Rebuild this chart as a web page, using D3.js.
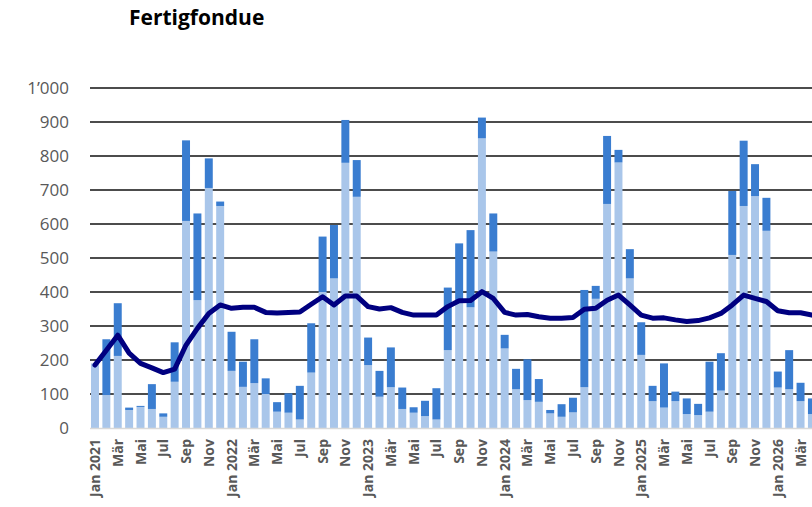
<!DOCTYPE html>
<html><head><meta charset="utf-8">
<script src="https://cdn.jsdelivr.net/npm/d3@7"></script>
<style>body{margin:0;background:#fff}svg{display:block}</style>
</head><body>
<div id="chart"></div>
<script>
const monthNames = ["Jan","Feb","Mär","Apr","Mai","Jun","Jul","Aug","Sep","Okt","Nov","Dez"];
const years = [2021,2022,2023,2024,2025,2026];
const lightValues = [
  190, 97,212, 53, 62, 56, 33,136,609,376,706,653,
  168,121,132,100, 48, 45, 25,163,400,440,780,680,
  185, 92,120, 56, 45, 35, 25,229,372,355,852,519,
  234,114, 82, 77, 43, 33, 46,120,380,659,781,440,
  215, 79, 60, 79, 41, 38, 48,110,509,653,682,580,
  119,114, 79, 41];
const darkValues = [
    0,164,155,  7,  3, 73, 10,116,237,255, 87, 13,
  115, 74,129, 46, 28, 57, 99,145,163,157,126,108,
   81, 76,117, 63, 16, 45, 92,184,171,227, 61,112,
   40, 60,120, 67, 10, 37, 43,286, 38,200, 37, 86,
   96, 45,130, 28, 46, 33,147,110,188,192, 94, 97,
   47,115, 54, 46];
const lineValues = [
  185,229,273,220,190,177,163,173,244,293,337,362,
  352,355,355,340,338,340,341,364,386,362,388,388,
  357,350,354,340,332,332,332,357,374,375,401,381,
  340,332,334,327,323,323,325,349,352,376,391,362,
  332,323,324,318,313,316,324,337,362,391,381,372,
  345,339,339,332];
const yTicks = [0,100,200,300,400,500,600,700,800,900,1000];

const months = lightValues.map((v,i)=>{
  const m = i%12, y = years[Math.floor(i/12)];
  return {key:i, label: m===0 ? "Jan " + y : monthNames[m], showLabel: m%2===0,
          light:v, dark:darkValues[i], avg:lineValues[i]};
});

const W=812,H=507;
const svg = d3.select("#chart").append("svg").attr("width",W).attr("height",H)
  .style("font-family","'Open Sans', sans-serif");

const step = 11.38, x0 = 89.3;
const x = d3.scaleBand().domain(months.map(d=>d.key))
  .range([x0, x0 + step*months.length]).paddingInner(0.3).paddingOuter(0.15);
const y = d3.scaleLinear().domain([0,1000]).range([428,88]);

// gridlines
svg.append("g").selectAll("line").data(yTicks.filter(t=>t>0)).join("line")
  .attr("x1",90).attr("x2",W).attr("y1",d=>y(d)).attr("y2",d=>y(d))
  .attr("stroke","#111").attr("stroke-width",1.4);

// y labels
const fmt = v => v>=1000 ? d3.format(",")(v).replace(",","\u2019") : String(v);
svg.append("g").selectAll("text").data(yTicks).join("text")
  .attr("x",69).attr("y",d=>y(d)).attr("dy","0.36em").attr("text-anchor","end")
  .attr("fill","#595959").style("font-size","17px").text(fmt);

// stacked bars
const stack = d3.stack().keys(["light","dark"])(months);
const colors = {light:"#A9C6EA", dark:"#3A7DD0"};
svg.append("g").selectAll("g").data(stack).join("g")
  .attr("fill",d=>colors[d.key])
  .selectAll("rect").data(d=>d).join("rect")
  .attr("x",d=>x(d.data.key)).attr("width",x.bandwidth())
  .attr("y",d=>y(d[1])).attr("height",d=>Math.max(0,y(d[0])-y(d[1])));

// baseline
svg.append("line").attr("x1",90).attr("x2",W).attr("y1",y(0)+0.5).attr("y2",y(0)+0.5)
  .attr("stroke","#d9d9d9").attr("stroke-width",1.5);

// average line
const line = d3.line().x(d=>x(d.key)+x.bandwidth()/2).y(d=>y(d.avg));
svg.append("path").datum(months).attr("d",line).attr("fill","none")
  .attr("stroke","#000080").attr("stroke-width",5)
  .attr("stroke-linejoin","round").attr("stroke-linecap","round");

// x labels
svg.append("g").selectAll("text").data(months.filter(d=>d.showLabel)).join("text")
  .attr("transform",d=>`translate(${x(d.key)+x.bandwidth()/2},439) rotate(-90)`)
  .attr("text-anchor","end").attr("dy","0.36em")
  .attr("fill","#595959").style("font-size","14px").style("font-weight","bold")
  .text(d=>d.label);

// title
svg.append("text").attr("x",129).attr("y",25).attr("fill","#000")
  .style("font-size","21px").style("font-weight","bold").text("Fertigfondue");
</script>
</body></html>
